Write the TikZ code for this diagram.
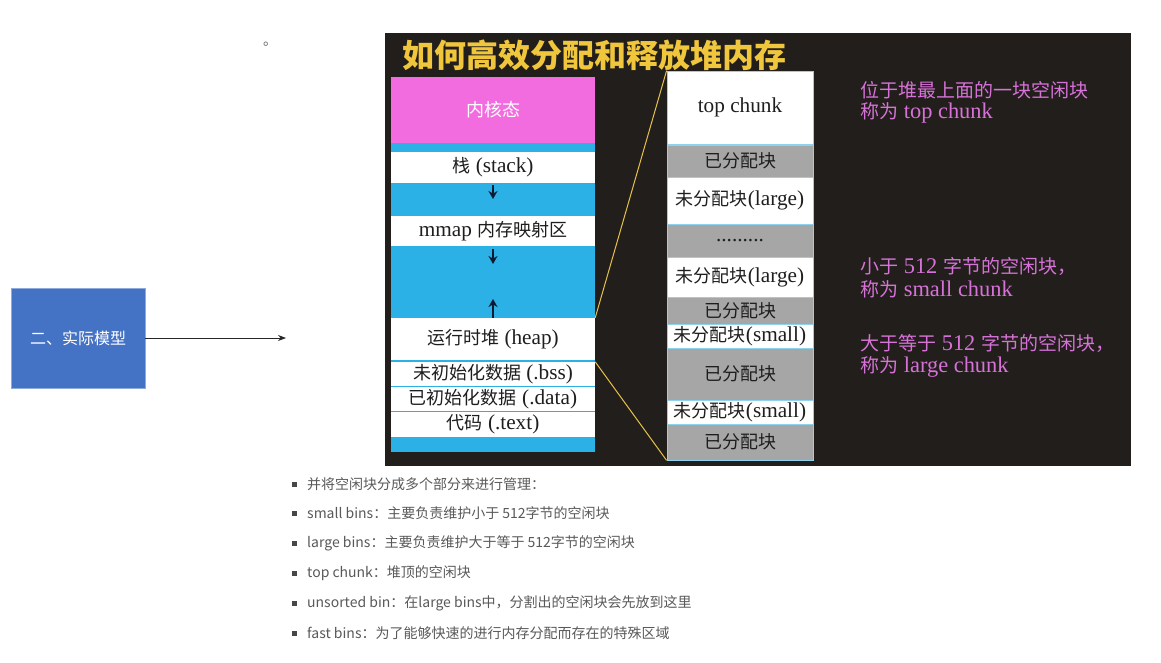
\documentclass[tikz,border=0pt]{standalone}
\usepackage{fontspec}
\setmainfont[Scale=1.18]{Liberation Serif}
\newfontfamily\cjk{Noto Sans CJK SC}
\usetikzlibrary{arrows.meta}
\definecolor{panelbg}{HTML}{221E1B}
\definecolor{colblue}{HTML}{2BB1E5}
\definecolor{kernpink}{HTML}{F26CE0}
\definecolor{cellgrey}{HTML}{A6A6A6}
\definecolor{cellline}{HTML}{8ED3EE}
\definecolor{titleyellow}{HTML}{F0C63C}
\definecolor{linkyellow}{HTML}{E6C24A}
\definecolor{notepink}{HTML}{D672D8}
\definecolor{boxblue}{HTML}{4472C4}
\definecolor{bullettext}{HTML}{595959}
\definecolor{celltext}{HTML}{1E1E1E}
\definecolor{arrnavy}{HTML}{0B1B33}
\tikzset{
  cell/.style={inner sep=0pt, minimum width=204pt, text=celltext, font=\fontsize{18}{20}\selectfont},
  wcell/.style={cell, fill=white},
  rcell/.style={inner sep=0pt, minimum width=146pt, draw=cellline, line width=0.8pt, text=celltext, font=\fontsize{18}{20}\selectfont},
  rwhite/.style={rcell, fill=white},
  rgrey/.style={rcell, fill=cellgrey},
  memarr/.style={-{Stealth[length=8pt,width=9pt]}, line width=2.6pt, draw=arrnavy},
  link/.style={draw=linkyellow, line width=1pt},
  note/.style={anchor=west, inner sep=0pt, text=notepink, font=\fontsize{19}{21}\selectfont},
  bline/.style={anchor=west, inner sep=0pt, text=bullettext, font=\cjk\fontsize{14}{16}\selectfont},
  bsq/.style={inner sep=0pt, minimum size=5pt, fill=bullettext!80!black},
}
\begin{document}
\begin{tikzpicture}[x=1pt,y=-1pt]
\useasboundingbox[fill=white] (0,0) rectangle (1161,662);
% panel
\node[fill=panelbg, inner sep=0pt, minimum width=746pt, minimum height=433pt, anchor=north west] (panel) at (385,33) {};
\node[text=titleyellow, font=\cjk\bfseries\fontsize{32}{34}\selectfont, anchor=west, inner sep=0pt] (title) at (402,55) {如何高效分配和释放堆内存};
% left column
\node[cell, fill=kernpink, minimum height=66pt, text=white] (kern) at (493,110) {\cjk 内核态};
\node[cell, fill=colblue, minimum height=309pt, anchor=north] (col) at (493,143) {};
\node[wcell, minimum height=31pt] (stack) at (493,167.5) {{\cjk 栈} (stack)};
\node[wcell, minimum height=30pt] (mmap) at (493,231) {mmap {\cjk 内存映射区}};
\node[wcell, minimum height=42pt] (heap) at (493,339) {{\cjk 运行时堆} (heap)};
\node[wcell, minimum height=24pt] (bss) at (493,374) {{\cjk 未初始化数据} (.bss)};
\node[wcell, minimum height=24pt] (data) at (493,399) {{\cjk 已初始化数据} (.data)};
\node[wcell, minimum height=25pt] (text) at (493,424.5) {{\cjk 代码} (.text)};
\coordinate (a1s) at (493,185); \coordinate (a1e) at (493,199);
\coordinate (a2s) at (493,249); \coordinate (a2e) at (493,264);
\coordinate (a3s) at (493,318); \coordinate (a3e) at (493,299);
\draw[memarr] (a1s) -- (a1e);
\draw[memarr] (a2s) -- (a2e);
\draw[memarr] (a3s) -- (a3e);
% right column
\node[rwhite, minimum height=73pt] (top) at (740,107.5) {top chunk};
\node[rgrey, minimum height=32pt] (al1) at (740,161) {\cjk 已分配块};
\node[rwhite, minimum height=47pt] (un1) at (740,200.5) {{\cjk 未分配块}(large)};
\node[rgrey, minimum height=33pt] (dots) at (740,240.5) {.........};
\node[rwhite, minimum height=40pt] (un2) at (740,277) {{\cjk 未分配块}(large)};
\node[rgrey, minimum height=27pt] (al2) at (740,310.5) {\cjk 已分配块};
\node[rwhite, minimum height=24pt] (sm1) at (740,336) {{\cjk 未分配块}(small)};
\node[rgrey, minimum height=52pt] (al3) at (740,374) {\cjk 已分配块};
\node[rwhite, minimum height=24pt] (sm2) at (740,412) {{\cjk 未分配块}(small)};
\node[rgrey, minimum height=36pt] (al4) at (740,442) {\cjk 已分配块};
% links
\draw[link] (heap.north east) -- (top.north west);
\draw[link] (bss.north east) -- (al4.south west);
% notes
\node[note] (n1a) at (860,90) {\cjk 位于堆最上面的一块空闲块};
\node[note] (n1b) at (860,113) {{\cjk 称为} top chunk};
\node[note] (n2a) at (860,266) {{\cjk 小于} 512 {\cjk 字节的空闲块，}};
\node[note] (n2b) at (860,289) {{\cjk 称为} small chunk};
\node[note] (n3a) at (860,343) {{\cjk 大于等于} 512 {\cjk 字节的空闲块，}};
\node[note] (n3b) at (860,367) {{\cjk 称为} large chunk};
% bullet list
\foreach \yy/\nm/\tx in {484/b1/并将空闲块分成多个部分来进行管理：,
                      513/b2/small bins：主要负责维护小于 512字节的空闲块,
                      543/b3/large bins：主要负责维护大于等于 512字节的空闲块,
                      573/b4/top chunk：堆顶的空闲块,
                      603/b5/unsorted bin：在large bins中，分割出的空闲块会先放到这里,
                      633/b6/fast bins：为了能够快速的进行内存分配而存在的特殊区域}{
  \node[bsq] (\nm sq) at (294,\yy) {};
  \node[bline] (\nm) at (307,\yy) {\tx};
}
% blue box and arrow
\node[fill=boxblue, draw=boxblue!60!white, line width=0.6pt, minimum width=134pt, minimum height=100pt, inner sep=0pt, text=white, font=\cjk\fontsize{16}{18}\selectfont] (model) at (78,338) {二、实际模型};
\coordinate (arrend) at (286,338);
\draw[-{Stealth[length=8pt,width=6pt]}, line width=0.8pt, draw=black!85] (model.east) -- (arrend);
% stray full-width stop
\node[text=black!60, font=\cjk\fontsize{14}{16}\selectfont, inner sep=0pt] (stop) at (270,44) {。};
\end{tikzpicture}
\end{document}
